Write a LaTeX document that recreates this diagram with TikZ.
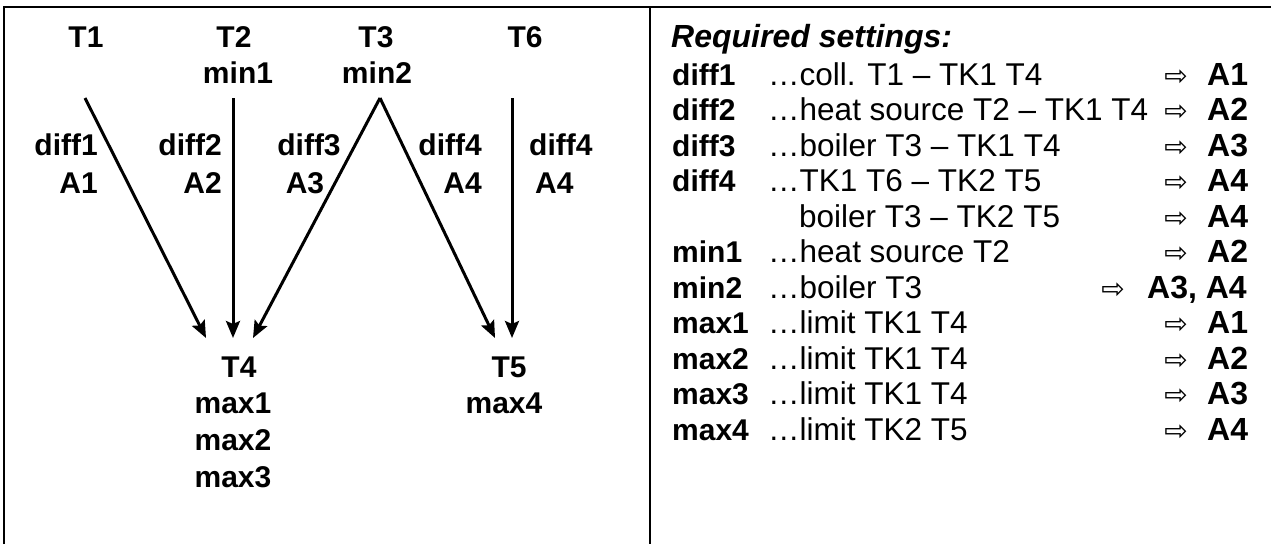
\documentclass[tikz,border=0pt]{standalone}
\usepackage{fontspec}
\setmainfont{Liberation Sans}
\newfontfamily\symfont{DejaVu Sans}
\usetikzlibrary{positioning,calc,arrows.meta}
\newcommand\sarrow{{\symfont\fontsize{28}{28}\selectfont ⇨}}

\begin{document}
\begin{tikzpicture}[x=1pt,y=-1pt,
    every node/.style={inner sep=0pt},
    big/.style={font=\fontsize{30}{36}\selectfont\bfseries},
    plain/.style={font=\fontsize{31.5}{36}\selectfont},
    key/.style={big,anchor=base west},
    desc/.style={plain,anchor=base west},
    sym/.style={anchor=base},
    res/.style={anchor=base west,font=\fontsize{32}{36}\selectfont\bfseries},
    flow/.style={line width=3pt,-{Stealth[length=17pt,width=14pt,inset=3pt]}},
    frame/.style={line width=1.5pt}]
  \useasboundingbox (0,0) rectangle (1271,544);
  \draw[frame] (4,544) |- (1271,7);
  \draw[frame] (650,7) -- (650,544);

  % sensors on top
  \node[big,anchor=base] (t1) at (86,47) {T1};
  \node[big,anchor=base] (t2) at (234,47) {T2};
  \node[big,anchor=base] (min1) at (238,83) {min1};
  \node[big,anchor=base] (t3) at (376,47) {T3};
  \node[big,anchor=base] (min2) at (377,83) {min2};
  \node[big,anchor=base] (t6) at (525,47) {T6};

  % sensors at the bottom
  \node[big,anchor=base] (t4) at (239,377) {T4};
  \node[big,anchor=base] (max1) at (233,413) {max1};
  \node[big,anchor=base] (max2) at (233,450) {max2};
  \node[big,anchor=base] (max3) at (233,487) {max3};
  \node[big,anchor=base] (t5) at (509,377) {T5};
  \node[big,anchor=base] (max4) at (504,413) {max4};

  % arrows
  \coordinate (t1 out) at (85,98);
  \coordinate (t2 out) at (233,98);
  \coordinate (t3 out) at (380,98);
  \coordinate (t6 out) at (512,98);
  \coordinate (t4 in1) at (206,338);
  \coordinate (t4 in2) at (233,338);
  \coordinate (t4 in3) at (253,338);
  \coordinate (t5 in1) at (495,338);
  \coordinate (t5 in2) at (512,338);
  \draw[flow] (t1 out) -- (t4 in1);
  \draw[flow] (t2 out) -- (t4 in2);
  \draw[flow] (t3 out) -- (t4 in3);
  \draw[flow] (t3 out) -- (t5 in1);
  \draw[flow] (t6 out) -- (t5 in2);

  % arrow labels
  \node[big,anchor=base east] (d1) at (98,155) {diff1};
  \node[big,anchor=base east] (o1) at (98,193) {A1};
  \node[big,anchor=base east] (d2) at (222,155) {diff2};
  \node[big,anchor=base east] (o2) at (222,193) {A2};
  \node[big,anchor=base] (d3) at (309,155) {diff3};
  \node[big,anchor=base] (o3) at (305,193) {A3};
  \node[big,anchor=base east] (d4) at (482,155) {diff4};
  \node[big,anchor=base east] (o4) at (482,193) {A4};
  \node[big,anchor=base west] (d5) at (529,155) {diff4};
  \node[big,anchor=base west] (o5) at (535,193) {A4};

  % settings
  \node[key,font=\fontsize{32}{36}\selectfont\bfseries\itshape] (req) at (671,47) {Required settings:};
  \node[key] (r1) at (672,85) {diff1};
  \node[desc] (r1t) at (768,85) {…coll. T1 – TK1 T4};
  \node[sym] (r1s) at (1176,85) {\sarrow};
  \node[res] (r1a) at (1207,85) {A1};
  \node[key] (r2) at (672,120.5) {diff2};
  \node[desc] (r2t) at (768,120.5) {…heat source T2 – TK1 T4};
  \node[sym] (r2s) at (1176,120.5) {\sarrow};
  \node[res] (r2a) at (1207,120.5) {A2};
  \node[key] (r3) at (672,156) {diff3};
  \node[desc] (r3t) at (768,156) {…boiler T3 – TK1 T4};
  \node[sym] (r3s) at (1176,156) {\sarrow};
  \node[res] (r3a) at (1207,156) {A3};
  \node[key] (r4) at (672,191.5) {diff4};
  \node[desc] (r4t) at (768,191.5) {…TK1 T6 – TK2 T5};
  \node[sym] (r4s) at (1176,191.5) {\sarrow};
  \node[res] (r4a) at (1207,191.5) {A4};
  \node[desc] (r5t) at (799,227) {boiler T3 – TK2 T5};
  \node[sym] (r5s) at (1176,227) {\sarrow};
  \node[res] (r5a) at (1207,227) {A4};
  \node[key] (r6) at (672,262.5) {min1};
  \node[desc] (r6t) at (768,262.5) {…heat source T2};
  \node[sym] (r6s) at (1176,262.5) {\sarrow};
  \node[res] (r6a) at (1207,262.5) {A2};
  \node[key] (r7) at (672,298) {min2};
  \node[desc] (r7t) at (768,298) {…boiler T3};
  \node[sym] (r7s) at (1113,298) {\sarrow};
  \node[res] (r7a) at (1147,298) {A3, A4};
  \node[key] (r8) at (672,333.5) {max1};
  \node[desc] (r8t) at (768,333.5) {…limit TK1 T4};
  \node[sym] (r8s) at (1176,333.5) {\sarrow};
  \node[res] (r8a) at (1207,333.5) {A1};
  \node[key] (r9) at (672,369) {max2};
  \node[desc] (r9t) at (768,369) {…limit TK1 T4};
  \node[sym] (r9s) at (1176,369) {\sarrow};
  \node[res] (r9a) at (1207,369) {A2};
  \node[key] (r10) at (672,404.5) {max3};
  \node[desc] (r10t) at (768,404.5) {…limit TK1 T4};
  \node[sym] (r10s) at (1176,404.5) {\sarrow};
  \node[res] (r10a) at (1207,404.5) {A3};
  \node[key] (r11) at (672,440) {max4};
  \node[desc] (r11t) at (768,440) {…limit TK2 T5};
  \node[sym] (r11s) at (1176,440) {\sarrow};
  \node[res] (r11a) at (1207,440) {A4};
\end{tikzpicture}
\end{document}
